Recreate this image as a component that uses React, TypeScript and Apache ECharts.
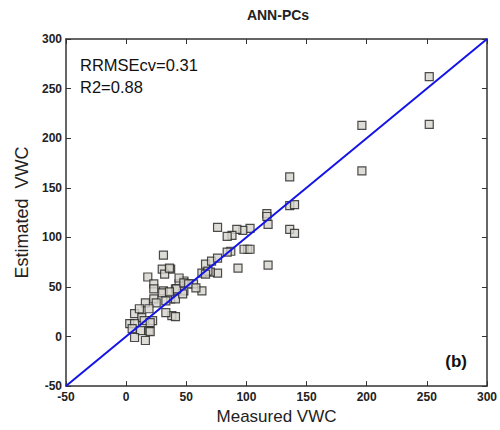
import React, { useEffect, useRef } from "react";
import * as echarts from "echarts";

const measured = [
  252, 252, 196, 196, 136, 136, 140, 117, 117, 118, 136, 140, 118, 93, 103, 97, 92, 88, 84, 76,
  101, 98, 87, 84, 103, 66, 71, 76, 76, 70, 63, 63, 56, 48, 44, 41, 48, 37, 37, 41,
  47, 31, 30, 32, 36, 18, 23, 31, 42, 23, 30, 36, 16, 23, 25, 33, 38, 33, 41, 7,
  13, 19, 11, 3, 7, 19, 5, 12, 7, 16, 20, 22, 15, 20, 44, 48, 52, 58, 68, 66,
];
const estimated = [
  262, 214, 213, 167, 161, 132, 133, 124, 121, 113, 108, 104, 72, 69, 109, 107, 108, 102, 101, 110,
  88, 88, 86, 85, 88, 73, 76, 79, 64, 65, 64, 46, 53, 56, 53, 48, 46, 68, 38, 38,
  43, 82, 68, 63, 69, 60, 53, 46, 48, 48, 44, 45, 34, 38, 34, 36, 21, 24, 20, 23,
  19, 28, 28, 13, 13, 6, 8, 6, -1, -4, 5, 16, 16, 14, 59, 54, 53, 49, 66, 63,
];
const fitLine = [
  [-50, -50],
  [300, 300],
];
const xTicks = [-50, 0, 50, 100, 150, 200, 250, 300];
const yTicks = [-50, 0, 50, 100, 150, 200, 250, 300];
const titleText = "ANN-PCs";
const statsText = ["RRMSEcv=0.31", "R2=0.88"];
const panelLabel = "(b)";

const FONT = "'Liberation Sans', Arial, sans-serif";

export default function App() {
  const ref = useRef<HTMLDivElement>(null);
  useEffect(() => {
    if (!ref.current) return;
    const chart = echarts.init(ref.current, undefined, { renderer: "svg" });
    const points = measured.map((m, i) => [m, estimated[i]]);
    const axisCommon = {
      type: "value" as const,
      min: xTicks[0],
      max: xTicks[xTicks.length - 1],
      interval: 50,
      splitLine: { show: false },
      axisLine: { show: true, onZero: false, lineStyle: { color: "#333", width: 1.5 } },
      axisTick: { show: true, inside: true, length: 5, lineStyle: { color: "#333", width: 1 } },
    };
    const yCommon = { ...axisCommon, min: yTicks[0], max: yTicks[yTicks.length - 1] };
    chart.setOption({
      animation: false,
      backgroundColor: "#ffffff",
      grid: { left: 66, right: 11, top: 39, bottom: 41, containLabel: false },
      xAxis: [
        {
          ...axisCommon,
          position: "bottom",
          name: "Measured VWC",
          nameLocation: "middle",
          nameGap: 21,
          nameTextStyle: { fontFamily: FONT, fontSize: 17, color: "#222" },
          axisLabel: { fontFamily: FONT, fontSize: 12, fontWeight: "bold", color: "#222", margin: 5 },
        },
        { ...axisCommon, position: "top", axisLabel: { show: false } },
      ],
      yAxis: [
        {
          ...yCommon,
          position: "left",
          name: "Estimated  VWC",
          nameLocation: "middle",
          nameGap: 33,
          nameTextStyle: { fontFamily: FONT, fontSize: 18, color: "#222" },
          axisLabel: { fontFamily: FONT, fontSize: 12, fontWeight: "bold", color: "#222", margin: 4 },
        },
        { ...yCommon, position: "right", axisLabel: { show: false } },
      ],
      graphic: [
        {
          type: "text",
          x: 278,
          y: 15,
          style: {
            text: titleText,
            font: `bold 14px ${FONT}`,
            fill: "#222",
            align: "center",
            verticalAlign: "middle",
          },
        },
        {
          type: "text",
          x: 80,
          y: 65,
          z: 10,
          style: { text: statsText[0], font: `16.5px ${FONT}`, fill: "#111", verticalAlign: "middle" },
        },
        {
          type: "text",
          x: 80,
          y: 87,
          z: 10,
          style: { text: statsText[1], font: `16.5px ${FONT}`, fill: "#111", verticalAlign: "middle" },
        },
        {
          type: "text",
          x: 467,
          y: 361,
          z: 10,
          style: {
            text: panelLabel,
            font: `bold 17px ${FONT}`,
            fill: "#111",
            align: "right",
            verticalAlign: "middle",
          },
        },
      ],
      series: [
        {
          type: "scatter",
          data: points,
          symbol: "rect",
          symbolSize: 8,
          itemStyle: { color: "#d6d3cc", borderColor: "#222", borderWidth: 1.2 },
          z: 2,
        },
        {
          type: "line",
          data: fitLine,
          showSymbol: false,
          symbol: "none",
          lineStyle: { color: "#1414e6", width: 2 },
          z: 3,
        },
      ],
    });
    return () => chart.dispose();
  }, []);
  return (
    <div
      ref={ref}
      style={{ position: "fixed", left: 0, top: 0, width: 500, height: 430, background: "#fff" }}
    />
  );
}
